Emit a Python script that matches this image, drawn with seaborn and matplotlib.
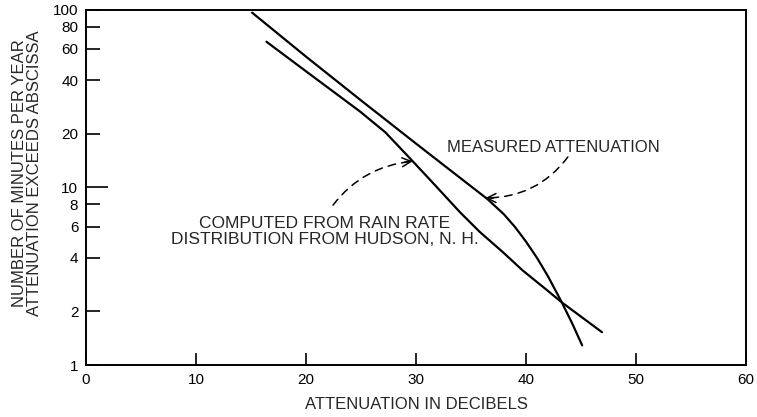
import matplotlib
matplotlib.use("Agg")
import matplotlib.pyplot as plt
import seaborn as sns
import pandas as pd
import numpy as np

# values
measured_db = [15.1, 20, 25, 30, 34, 36.5, 38, 39, 40, 41, 42, 43.25, 44.2, 45.1]
measured_min = [96, 54.3, 30.8, 17.6, 11.3, 8.57, 7.03, 5.97, 4.94, 4.0, 3.15, 2.25, 1.71, 1.29]
computed_db = [16.4, 20, 24.9, 27.2, 29.7, 31.4, 34.0, 35.8, 37.9, 39.7, 41.7, 43.25, 46.9]
computed_min = [65.9, 44.9, 26.7, 20.4, 14.0, 10.8, 7.23, 5.6, 4.31, 3.40, 2.70, 2.25, 1.53]
x_ticks = [0, 10, 20, 30, 40, 50, 60]
y_ticks = [1, 2, 4, 6, 8, 10, 20, 40, 60, 80, 100]

sns.set_style("white")
plt.rcParams["font.family"] = ["Liberation Sans", "DejaVu Sans"]

df_meas = pd.DataFrame({"db": measured_db, "minutes": measured_min})
df_comp = pd.DataFrame({"db": computed_db, "minutes": computed_min})

fig = plt.figure(figsize=(7.57, 4.17), dpi=100)
ax = fig.add_axes([0.1136, 0.1247, 0.872, 0.8525])

sns.lineplot(data=df_meas, x="db", y="minutes", ax=ax, color="black", lw=1.6, sort=False)
sns.lineplot(data=df_comp, x="db", y="minutes", ax=ax, color="black", lw=1.6, sort=False)

ax.set_yscale("log")
ax.set_xlim(0, 60)
ax.set_ylim(1, 100)
ax.set_xticks(x_ticks)
ax.set_xticklabels([str(v) for v in x_ticks], fontsize=11)
ax.minorticks_off()
ax.set_yticks(y_ticks)
ax.set_yticklabels([str(v) for v in y_ticks], fontsize=11)
ax.tick_params(axis="y", left=True, direction="in", length=10, width=1.2, pad=5.5, colors="black")
ax.tick_params(axis="x", bottom=True, direction="in", length=8.5, width=1.2, pad=6, colors="black")
ax.yaxis.get_major_ticks()[5].tick1line.set_markersize(16)
for sp in ax.spines.values():
    sp.set_visible(True)
    sp.set_color("black")
    sp.set_linewidth(1.4)
ax.set_xlabel("")
ax.set_ylabel("")

fig.text(0.5496, 0.029, "ATTENUATION IN DECIBELS", ha="center", va="center", fontsize=12)
fig.text(20 / 757, 0.585, "NUMBER OF MINUTES PER YEAR", rotation=90, ha="center", va="center", fontsize=12)
fig.text(35 / 757, 0.585, "ATTENUATION EXCEEDS ABSCISSA", rotation=90, ha="center", va="center", fontsize=12)


def dashed_arrow(start, end, rad):
    # dashed arc, then a solid open head along the arc's end tangent
    ax.annotate("", xy=end, xytext=start,
                arrowprops=dict(arrowstyle="-", linestyle=(0, (5, 4)), color="black", lw=1.1,
                                connectionstyle="arc3,rad=%s" % rad, shrinkA=0, shrinkB=0))
    p1 = ax.transData.transform(start)
    p2 = ax.transData.transform(end)
    d = p2 - p1
    c = (p1 + p2) / 2 + rad * np.array([d[1], -d[0]])
    t = (p2 - c) / np.hypot(*(p2 - c))
    tail = ax.transData.inverted().transform(p2 - 8 * t)
    ax.annotate("", xy=end, xytext=tuple(tail),
                arrowprops=dict(arrowstyle="->", color="black", lw=1.1,
                                shrinkA=0, shrinkB=0, mutation_scale=16))


dashed_arrow((22.45, 7.93), (29.7, 14.0), -0.22)
dashed_arrow((43.8, 14.8), (36.3, 8.7), -0.25)

ax.text(42.45, 16.8, "MEASURED ATTENUATION", ha="center", va="center", fontsize=12)
ax.text(21.7, 5.65, "COMPUTED FROM RAIN RATE\nDISTRIBUTION FROM HUDSON, N. H.",
        ha="center", va="center", fontsize=12.5, linespacing=1.1, multialignment="center")

fig.savefig("out.png", dpi=100)
